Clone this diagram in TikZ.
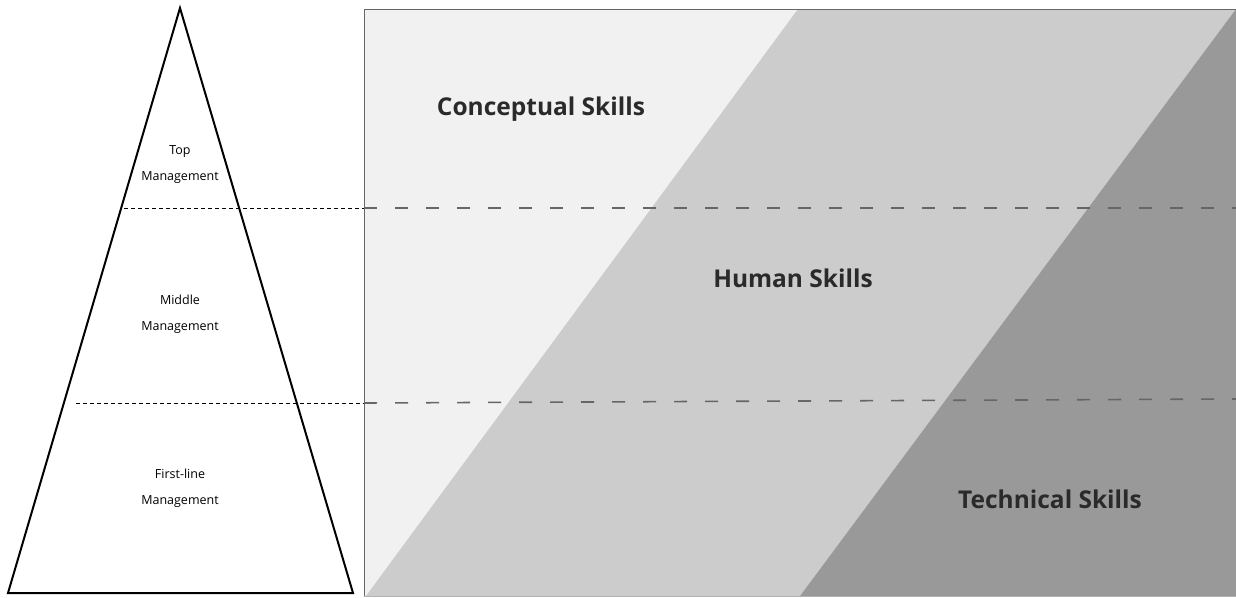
\documentclass[tikz,border=0pt]{standalone}
\usepackage{fontspec}
\setmainfont{Open Sans}
\usetikzlibrary{positioning}

\definecolor{lightfill}{HTML}{F1F1F1}
\definecolor{midfill}{HTML}{CCCCCC}
\definecolor{darkfill}{HTML}{999999}
\definecolor{skillgray}{HTML}{666666}
\definecolor{labelgray}{HTML}{2A2A2A}

\begin{document}
\begin{tikzpicture}[x=1pt,y=-1pt,
        level text/.style={font=\fontsize{12.5}{26}\selectfont,align=center},
        skill text/.style={font=\fontsize{24.5}{28}\selectfont\bfseries,text=labelgray},
        level line/.style={dashed,thin,dash pattern=on 4pt off 3pt},
        skill line/.style={skillgray,line width=1.6pt,dash pattern=on 13pt off 18pt}]

      \useasboundingbox (0,0) rectangle (1236,597);

      % skill chart
      \fill[lightfill] (364,9) rectangle (1236,596);
      \fill[midfill] (366,596) -- (798,9) -- (1236,9) -- (800,596) -- cycle;
      \fill[darkfill] (800,596) -- (1236,9) -- (1236,596) -- cycle;
      \draw[gray!80!black,line width=1pt] (364,596) -- (364,9) -- (1236,9);
      \draw[gray!60,line width=0.8pt] (364,596) -- (1236,596);

      % pyramid
      \coordinate (apex) at (180,8);
      \coordinate (bl) at (8,593);
      \coordinate (br) at (353,593);
      \draw[line width=2pt,line join=miter] (apex) -- (bl) -- (br) -- cycle;

      \coordinate (topL) at (124,208);
      \coordinate (topR) at (364,208);
      \coordinate (midL) at (76,403);
      \coordinate (midR) at (364,403);
      \coordinate (topE) at (1236,208);
      \coordinate (midE) at (1236,399);

      \draw[level line] (topL) -- (topR);
      \draw[level line] (midL) -- (midR);
      \draw[skill line] (topR) -- (topE);
      \draw[skill line] (midR) -- (midE);

      \node[level text] (top) at (180,165) {Top\\Management};
      \node[level text] (middle) at (180,314) {Middle\\Management};
      \node[level text] (first) at (180,488) {First-line\\Management};

      \node[skill text] (concept) at (541,109) {Conceptual Skills};
      \node[skill text] (human) at (793,278) {Human Skills};
      \node[skill text] (tech) at (1050,499) {Technical Skills};
\end{tikzpicture}
\end{document}
